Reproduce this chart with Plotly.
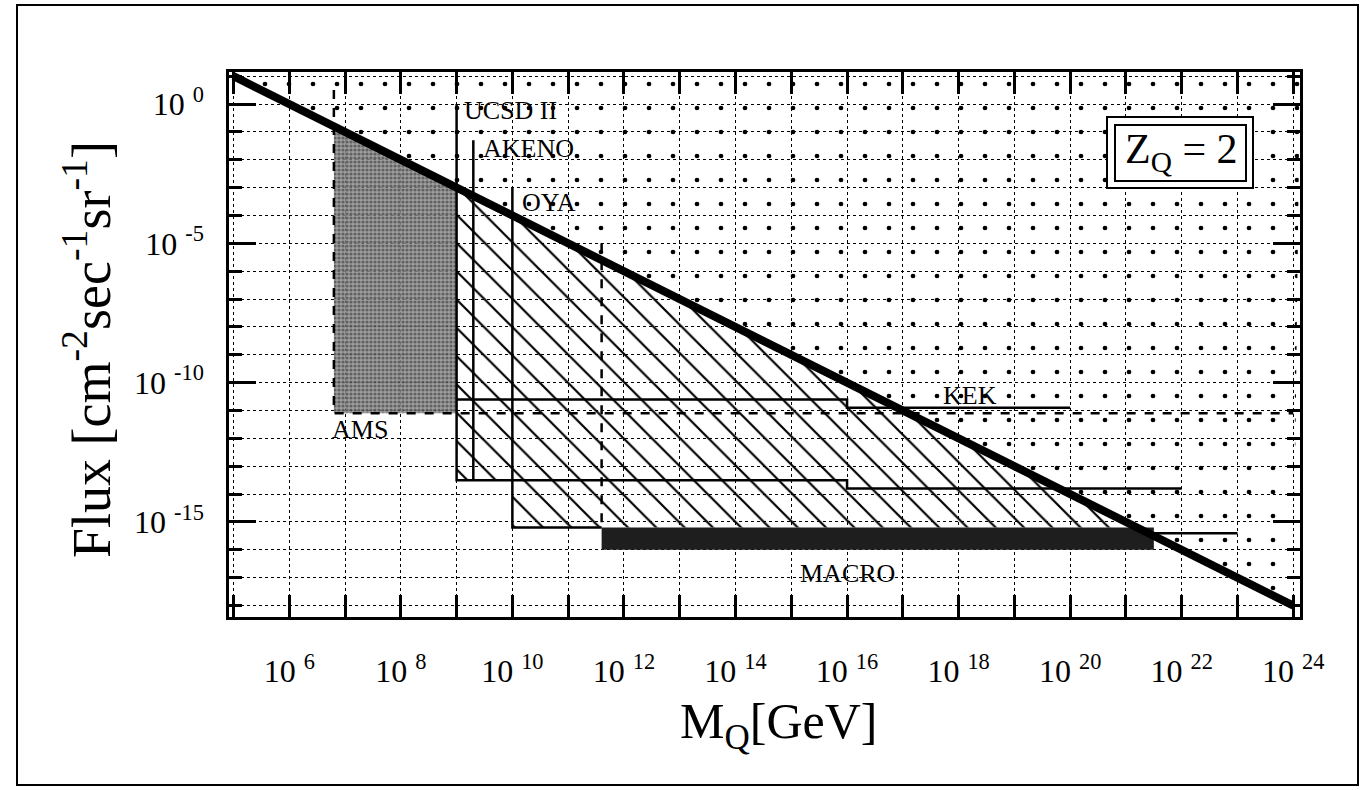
import plotly.graph_objects as go

# ---------------- data ----------------
# theoretical upper bound (thick line), flux vs mass
bound_mass = [1e5, 1e24]
bound_flux = [1e1, 1e-18]

# AMS sensitivity (grey stippled box + dashed boundary)
ams_mass = [10**6.8, 1e9]
ams_flux_top = 10**0.5
ams_flux_floor = 10**-11.1
ams_dash_end_mass = 1e24

# UCSD II limit
ucsd_mass = [1e9, 1e9, 1e16, 1e16, 1e22]
ucsd_flux = [1e0, 10**-13.5, 10**-13.5, 10**-13.8, 10**-13.8]

# AKENO limit
akeno_mass = [10**9.3, 10**9.3]
akeno_flux = [10**-1.3, 10**-13.5]

# KEK limit
kek_mass = [1e9, 1e16, 1e16, 1e20]
kek_flux = [10**-10.6, 10**-10.6, 10**-10.9, 10**-10.9]

# OYA limit
oya_mass = [1e10, 1e10, 10**11.6]
oya_flux = [1e-3, 10**-15.2, 10**-15.2]

# MACRO limit
macro_band_mass = [10**11.6, 10**21.5]
macro_band_flux = [10**-15.2, 10**-16.0]
macro_tail_mass = [10**21.5, 1e23]
macro_tail_flux = [10**-15.4, 10**-15.4]
macro_dash_mass = [10**11.6, 10**11.6]
macro_dash_flux = [1e-5, 10**-15.2]

# excluded (hatched) region
hatch_mass = [1e9, 10**21.2, 1e10, 1e10, 1e9]
hatch_flux = [1e-3, 10**-15.2, 10**-15.2, 10**-13.5, 10**-13.5]

# axis ticks
x_label_exps = list(range(6, 25, 2))
x_minor_exps = list(range(5, 24, 2))
y_major_exps = [0, -5, -10, -15]
y_minor_exps = [e for e in range(1, -19, -1) if e not in y_major_exps]

# ---------------- layout geometry ----------------
W, H = 1367, 790
ML, MR, MT, MB = 229, 67, 72, 173
PW, PH = W - ML - MR, H - MT - MB
X_RANGE = [4.92, 24.12]
Y_RANGE = [-18.41, 1.15]


def px(xpix):
    return (xpix - ML) / PW


def py(ypix):
    return (H - MB - ypix) / PH


SERIF = "Liberation Serif"
fig = go.Figure()

# stipple above the bound line
fig.add_trace(go.Scatter(x=bound_mass, y=bound_flux, mode="lines",
                         line=dict(width=0), hoverinfo="skip", showlegend=False))
fig.add_trace(go.Scatter(x=[10**X_RANGE[0], 10**X_RANGE[1]],
                         y=[10**Y_RANGE[1], 10**Y_RANGE[1]], mode="lines",
                         line=dict(width=0), fill="tonexty", fillcolor="rgba(0,0,0,0)",
                         fillpattern=dict(shape=".", size=24, solidity=0.03, fgopacity=1,
                                          fgcolor="black", bgcolor="rgba(0,0,0,0)"),
                         hoverinfo="skip", showlegend=False))

# AMS grey region (under the bound line)
ams_poly_x = [ams_mass[0], ams_mass[1], ams_mass[1], ams_mass[0]]
ams_poly_y = [1e6 / ams_mass[0], 1e6 / ams_mass[1], ams_flux_floor, ams_flux_floor]
fig.add_trace(go.Scatter(x=ams_poly_x, y=ams_poly_y, mode="lines", line=dict(width=0),
                         fill="toself", fillcolor="rgba(120,120,120,0.85)",
                         fillpattern=dict(shape=".", size=4, solidity=0.5,
                                          fgcolor="rgba(25,25,25,0.9)", bgcolor="rgba(140,140,140,0.85)"),
                         hoverinfo="skip", showlegend=False))

# hatched region
fig.add_trace(go.Scatter(x=hatch_mass, y=hatch_flux, mode="lines", line=dict(width=0),
                         fill="toself", fillcolor="rgba(0,0,0,0)",
                         fillpattern=dict(shape="\\", size=20, solidity=0.11, fgopacity=1,
                                          fgcolor="black", bgcolor="rgba(0,0,0,0)"),
                         hoverinfo="skip", showlegend=False))

# AMS dashed boundary
fig.add_trace(go.Scatter(x=[ams_mass[0], ams_mass[0], ams_dash_end_mass],
                         y=[ams_flux_top, ams_flux_floor, ams_flux_floor], mode="lines",
                         line=dict(color="black", width=2.5, dash="dash"),
                         hoverinfo="skip", showlegend=False))

# experiment limit lines
for mx, fy in [(ucsd_mass, ucsd_flux), (akeno_mass, akeno_flux), (kek_mass, kek_flux),
               (oya_mass, oya_flux), (macro_tail_mass, macro_tail_flux)]:
    fig.add_trace(go.Scatter(x=mx, y=fy, mode="lines", line=dict(color="black", width=2.5),
                             hoverinfo="skip", showlegend=False))

fig.add_trace(go.Scatter(x=macro_dash_mass, y=macro_dash_flux, mode="lines",
                         line=dict(color="black", width=2.5, dash="dash"),
                         hoverinfo="skip", showlegend=False))

# MACRO dark band
fig.add_trace(go.Scatter(x=[macro_band_mass[0], macro_band_mass[1], macro_band_mass[1], macro_band_mass[0]],
                         y=[macro_band_flux[0], macro_band_flux[0], macro_band_flux[1], macro_band_flux[1]],
                         mode="lines", line=dict(width=0), fill="toself",
                         fillcolor="rgb(30,30,30)", hoverinfo="skip", showlegend=False))

# thick bound line
fig.add_trace(go.Scatter(x=bound_mass, y=bound_flux, mode="lines",
                         line=dict(color="black", width=8), hoverinfo="skip", showlegend=False))

x_tickvals = [10.0**e for e in x_label_exps]
x_ticktext = ["10\u00a0<sup>%d</sup>" % e for e in x_label_exps]
x_minorvals = [10.0**e for e in x_minor_exps]
y_tickvals = [10.0**e for e in y_major_exps]
y_ticktext = ["10\u00a0<sup>%d</sup>" % e for e in y_major_exps]
y_minorvals = [10.0**e for e in y_minor_exps]

grid = dict(showgrid=True, gridcolor="black", griddash="dot", gridwidth=1.3)

fig.update_xaxes(type="log", range=X_RANGE, tickmode="array", tickvals=x_tickvals,
                 ticktext=x_ticktext, ticks="inside", ticklen=22, tickwidth=3,
                 tickcolor="black", showline=True, linewidth=2.5, linecolor="black",
                 mirror="ticks", zeroline=False, ticklabelstandoff=24,
                 tickfont=dict(family=SERIF, size=32, color="black"),
                 minor=dict(tickmode="array", tickvals=x_minorvals, ticks="inside",
                            ticklen=22, tickwidth=3, tickcolor="black", **grid),
                 **grid)
fig.update_yaxes(type="log", range=Y_RANGE, tickmode="array", tickvals=y_tickvals,
                 ticktext=y_ticktext, ticks="inside", ticklen=27, tickwidth=3,
                 tickcolor="black", showline=True, linewidth=2.5, linecolor="black",
                 mirror="ticks", zeroline=False, ticklabelstandoff=16,
                 tickfont=dict(family=SERIF, size=32, color="black"),
                 minor=dict(tickmode="array", tickvals=y_minorvals, ticks="inside",
                            ticklen=13, tickwidth=3, tickcolor="black", **grid),
                 **grid)

annotations = [
    dict(text="UCSD II", x=px(462), y=py(111), xanchor="left", yanchor="middle", size=26),
    dict(text="AKENO", x=px(481), y=py(149), xanchor="left", yanchor="middle", size=26),
    dict(text="OYA", x=px(520), y=py(202), xanchor="left", yanchor="middle", size=26),
    dict(text="KEK", x=px(970), y=py(395), xanchor="center", yanchor="middle", size=26),
    dict(text="AMS", x=px(330), y=py(429), xanchor="left", yanchor="middle", size=26),
    dict(text="MACRO", x=px(848), y=py(573), xanchor="center", yanchor="middle", size=26),
    dict(text="Z<sub>Q</sub> = 2", x=px(1181), y=py(152), xanchor="center", yanchor="middle", size=42),
    dict(text="M<sub>Q</sub>[GeV]", x=px(778), y=py(725), xanchor="center", yanchor="middle", size=50),
]
ann_objs = []
for a in annotations:
    ann_objs.append(dict(text=a["text"], x=a["x"], y=a["y"], xref="paper", yref="paper",
                         xanchor=a["xanchor"], yanchor=a["yanchor"], showarrow=False,
                         font=dict(family=SERIF, size=a["size"], color="black")))
ann_objs.append(dict(text="Flux [cm<sup>-2</sup>sec<sup>-1</sup>sr<sup>-1</sup>]",
                     x=px(88), y=py(350), xref="paper", yref="paper", textangle=-90,
                     xanchor="center", yanchor="middle", showarrow=False,
                     font=dict(family=SERIF, size=54, color="black")))

shapes = [
    # outer figure border
    dict(type="rect", xref="paper", yref="paper", x0=px(17), x1=px(1358), y0=py(785), y1=py(5),
         line=dict(color="black", width=2), layer="below"),
    # Z_Q double box
    dict(type="rect", xref="paper", yref="paper", x0=px(1107), x1=px(1253), y0=py(188), y1=py(117),
         line=dict(color="black", width=2), fillcolor="white", layer="above"),
    dict(type="rect", xref="paper", yref="paper", x0=px(1115), x1=px(1246), y0=py(181), y1=py(125),
         line=dict(color="black", width=2), fillcolor="rgba(0,0,0,0)", layer="above"),
]

fig.update_layout(width=W, height=H, margin=dict(l=ML, r=MR, t=MT, b=MB),
                  paper_bgcolor="white", plot_bgcolor="white", showlegend=False,
                  annotations=ann_objs, shapes=shapes)

fig.write_html("out.html")
